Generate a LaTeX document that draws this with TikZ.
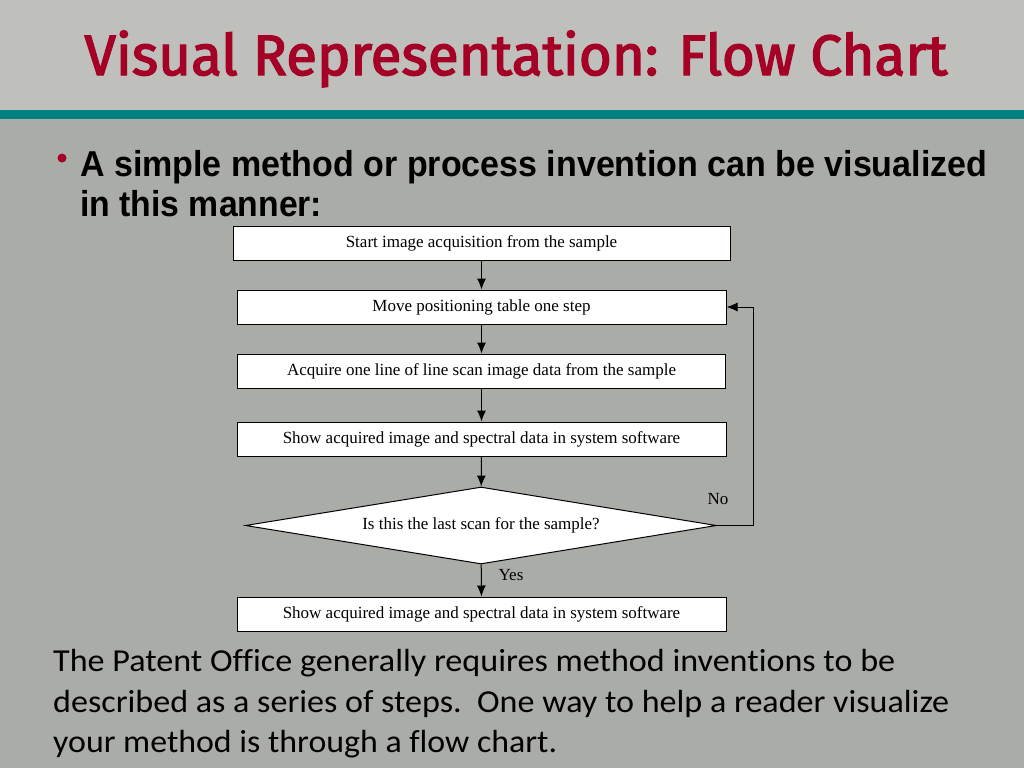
\documentclass[tikz,border=0pt]{standalone}
\usepackage{graphicx}
\usepackage{fontspec}
\setmainfont{Liberation Serif}
\newfontfamily\titlefont{Fira Sans}
\newfontfamily\bodyfont{Liberation Sans}
\newfontfamily\calfont[Ligatures=NoCommon]{Carlito}
\usetikzlibrary{arrows.meta,shapes.geometric}
\definecolor{bandgray}{RGB}{191,192,187}
\definecolor{bggray}{RGB}{170,172,167}
\definecolor{tealline}{RGB}{0,128,128}
\definecolor{titlered}{RGB}{165,0,38}
\begin{document}
\begin{tikzpicture}[x=1pt,y=-1pt,
  box/.style={draw,fill=white,line width=1pt,minimum height=34pt,inner sep=0pt,font=\fontsize{17}{20}\selectfont},
  dec/.style={diamond,draw,fill=white,line width=1pt,inner sep=0pt,aspect=6,minimum width=471pt,minimum height=77pt,font=\fontsize{17}{20}\selectfont},
  lbl/.style={font=\fontsize{17}{20}\selectfont,inner sep=0pt},
  arr/.style={-{Latex[length=11pt,width=9pt]},line width=1pt},
  bline/.style={anchor=base west,inner sep=0pt,font=\calfont\fontsize{32}{38}\selectfont},
  hline/.style={anchor=base west,inner sep=0pt,font=\bodyfont\bfseries\fontsize{36}{40}\selectfont}]
\useasboundingbox (0,0) rectangle (1024,768);
\fill[bggray] (0,0) rectangle (1024,768);
\fill[bandgray] (0,0) rectangle (1024,110);
\fill[tealline] (0,110) rectangle (1024,119);

\node[anchor=base,inner sep=0pt,text=titlered,font=\titlefont\addfontfeature{FakeBold=2.5}\fontsize{57}{60}\selectfont] (title) at (516,75)
  {\resizebox{863pt}{\height}{Visual Representation: Flow Chart}};

\node[circle,fill=titlered,minimum size=9pt,inner sep=0pt] (bul) at (62,158) {};
\node[hline] (h1) at (80,176) {\resizebox{907pt}{\height}{A simple method or process invention can be visualized}};
\node[hline] (h2) at (80,216) {\resizebox{242pt}{\height}{in this manner:}};

\node[box,minimum width=497pt] (b1) at (481.5,243) {Start image acquisition from the sample};
\node[box,minimum width=489pt] (b2) at (481.5,307) {Move positioning table one step};
\node[box,minimum width=488pt] (b3) at (481.5,371) {Acquire one line of line scan image data from the sample};
\node[box,minimum width=489pt] (b4) at (481.5,439) {Show acquired image and spectral data in system software};
\node[dec] (d) at (481,525.5) {Is this the last scan for the sample?};
\node[box,minimum width=489pt] (b5) at (481.5,614) {Show acquired image and spectral data in system software};

\draw[arr] (b1) -- (b2);
\draw[arr] (b2) -- (b3);
\draw[arr] (b3) -- (b4);
\draw[arr] (b4) -- (d);
\draw[arr] (d) -- (b5);
\coordinate (loop) at (753,525.5);
\draw[arr] (d.east) -- (loop) |- (b2.east);
\node[lbl] (no) at (718,499) {No};
\node[lbl] (yes) at (511,575) {Yes};

\node[bline] (t1) at (53,671) {\resizebox{842pt}{\height}{The Patent Office generally requires method inventions to be}};
\node[bline] (t2) at (53,712) {\resizebox{896pt}{\height}{described as a series of steps.\ \ One way to help a reader visualize}};
\node[bline] (t3) at (53,752) {\resizebox{504pt}{\height}{your method is through a flow chart.}};
\end{tikzpicture}
\end{document}
